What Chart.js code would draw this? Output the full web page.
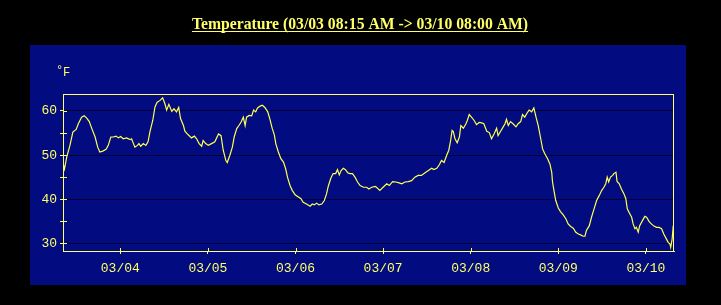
<!DOCTYPE html>
<html>
<head>
<meta charset="utf-8">
<script src="https://cdn.jsdelivr.net/npm/chart.js@4"></script>
<style>
  html, body { margin: 0; padding: 0; background: #000; }
  #wrap { width: 721px; height: 305px; }
</style>
</head>
<body>
<div id="wrap"><canvas id="tempChart" width="721" height="305"></canvas></div>
<script>
// hours since 03/03 00:00
var hours = [
    8.3, 8.7, 9.3, 10.2, 11.0, 11.9, 12.5, 13.4, 14.1, 14.8, 15.5, 16.2, 17.1, 17.8, 18.4, 19.2, 20.1, 20.7,
    21.4, 22.1, 22.8, 23.5, 24.1, 24.8, 25.7, 26.7, 27.1, 27.6, 28.0, 28.7, 29.1, 29.6, 30.3, 31.0, 31.6,
    32.1, 32.9, 33.5, 34.1, 34.9, 35.6, 36.2, 36.7, 37.3, 38.1, 38.7, 39.4, 40.0, 40.5, 41.3, 41.7, 42.6,
    43.5, 44.3, 44.9, 45.6, 46.3, 46.7, 47.4, 48.1, 49.0, 49.9, 50.9, 51.6, 52.2, 52.9, 53.3, 54.0, 54.7,
    55.2, 55.9, 56.5, 57.1, 57.7, 58.2, 58.6, 59.3, 60.0, 60.5, 61.1, 61.6, 62.3, 62.9, 63.6, 64.4, 65.0,
    65.6, 66.2, 66.6, 67.3, 68.0, 68.7, 69.3, 69.8, 70.5, 71.1, 71.9, 72.8, 73.5, 74.1, 75.0, 76.0, 76.6,
    77.1, 77.8, 78.4, 79.2, 79.9, 80.5, 81.0, 81.7, 82.3, 83.0, 83.5, 84.0, 84.5, 85.1, 85.7, 86.3, 86.9,
    87.6, 88.3, 89.0, 89.7, 90.6, 91.5, 92.1, 92.9, 93.8, 94.2, 95.1, 96.0, 97.0, 97.7, 98.6, 99.5, 100.4,
    101.1, 102.0, 102.9, 103.8, 104.7, 105.6, 106.5, 107.5, 108.4, 109.3, 109.9, 110.7, 111.4, 112.0,
    112.7, 113.4, 114.0, 114.5, 114.9, 115.2, 115.7, 116.3, 116.9, 117.3, 118.0, 118.7, 119.1, 119.6,
    120.2, 120.9, 121.6, 122.3, 123.0, 123.6, 124.4, 125.1, 125.7, 126.4, 127.1, 127.5, 128.2, 128.7,
    129.4, 129.8, 130.3, 130.9, 131.6, 132.4, 133.0, 133.7, 134.2, 134.8, 135.5, 136.0, 136.7, 137.3,
    137.9, 138.5, 139.1, 139.7, 140.3, 141.0, 141.7, 142.2, 142.4, 142.8, 143.3, 144.0, 144.6, 145.4,
    146.1, 146.7, 147.4, 148.1, 148.8, 149.5, 150.1, 150.8, 151.3, 151.7, 152.5, 153.1, 153.8, 154.5,
    155.2, 155.9, 156.5, 157.0, 157.4, 157.8, 158.3, 158.9, 159.2, 159.8, 160.1, 160.7, 161.3, 162.0,
    162.5, 162.9, 163.4, 164.1, 164.5, 165.0, 165.4, 165.9, 166.3, 167.1, 167.7, 168.2, 168.9, 169.5,
    170.2, 170.9, 171.6, 172.3, 172.9, 173.6, 174.1, 174.6, 174.8, 175.2, 175.5
];
var temps = [
    48.2, 46.8, 49.5, 52.2, 55.2, 55.8, 57.1, 58.6, 58.9, 58.4, 57.6, 56.0, 54.1, 51.8, 50.7, 50.9, 51.3, 52.2,
    54.1, 54.1, 54.3, 53.9, 54.2, 53.7, 53.9, 53.5, 53.7, 52.6, 51.8, 52.2, 52.6, 52.0, 52.6, 52.2, 53.0,
    55.2, 57.9, 60.9, 62.0, 62.4, 63.0, 61.7, 60.2, 61.5, 59.9, 60.5, 59.8, 60.8, 58.3, 56.7, 55.4, 54.6,
    53.9, 54.3, 53.7, 52.6, 52.0, 53.3, 52.6, 52.2, 52.6, 53.0, 54.8, 54.4, 51.1, 48.8, 48.3, 49.9, 51.8,
    54.1, 56.0, 56.7, 57.5, 58.6, 56.7, 58.6, 59.0, 58.9, 60.2, 59.8, 60.7, 61.1, 61.3, 60.8, 59.8, 58.1,
    56.1, 54.6, 52.6, 50.7, 49.2, 48.4, 46.9, 45.0, 43.1, 42.0, 41.0, 40.5, 40.1, 39.3, 38.9, 38.4, 38.9,
    38.7, 39.1, 38.7, 38.9, 39.7, 41.2, 43.0, 44.8, 45.8, 45.8, 46.7, 45.5, 46.5, 47.0, 46.7, 46.0, 45.8,
    45.8, 45.0, 43.9, 43.1, 42.7, 42.7, 42.3, 42.7, 42.9, 42.7, 42.0, 42.7, 43.5, 43.1, 44.0, 43.9, 43.7,
    43.5, 43.9, 44.0, 44.2, 45.0, 45.4, 45.4, 46.0, 46.5, 47.0, 46.7, 47.0, 47.8, 48.8,
    48.3, 49.9, 51.1, 53.3, 55.6, 55.4, 53.7, 52.8, 54.1, 56.7, 56.1, 57.1, 57.9, 59.2,
    58.6, 57.9, 56.9, 57.4, 57.3, 57.1, 55.4, 55.1, 53.7, 54.8, 56.1, 54.4, 55.4, 56.1,
    57.1, 58.1, 56.7, 57.6, 57.1, 56.4, 57.1, 57.6, 59.2, 58.6, 59.6, 60.2, 59.8, 60.7,
    58.6, 56.7, 54.1, 51.4, 50.3, 49.3, 48.0, 46.1, 44.0, 42.0, 39.7, 38.0, 37.2, 36.4,
    35.5, 34.4, 33.8, 33.4, 32.5, 32.1, 31.9, 31.6, 31.6, 32.9, 34.0, 35.9, 37.8, 39.7,
    40.8, 42.0, 42.7, 43.5, 45.0, 43.9, 45.0, 45.4, 45.8, 46.1, 44.0, 43.5, 42.3, 41.2,
    40.1, 37.8, 37.0, 35.9, 34.4, 33.3, 33.6, 32.5, 34.0, 35.2, 36.1, 35.9, 34.9, 34.4,
    33.9, 33.6, 33.6, 33.3, 32.1, 31.0, 30.2, 29.8, 29.1, 31.0, 34.0
];
var dayTicks = [24, 48, 72, 96, 120, 144, 168];
var dayLabels = ["03/04", "03/05", "03/06", "03/07", "03/08", "03/09", "03/10"];
var titulo = "Temperature (03/03 08:15 AM -> 03/10 08:00 AM)";
var unidad = "\u00B0F";

var amarillo = "#ffff66";
var fondo = "#020c80";

var puntos = [];
for (var i = 0; i < hours.length; i++) {
    puntos.push({ x: hours[i], y: temps[i] });
}

var decorado = {
    id: "decorado",
    beforeDraw: function (chart) {
        var ctx = chart.ctx;
        ctx.save();
        ctx.fillStyle = "#000";
        ctx.fillRect(0, 0, chart.width, chart.height);
        ctx.fillStyle = fondo;
        ctx.fillRect(30, 45, 656, 240);

        // titulo subrayado
        ctx.font = "bold 15.7px 'Liberation Serif'";
        ctx.fillStyle = amarillo;
        ctx.textAlign = "center";
        ctx.textBaseline = "alphabetic";
        ctx.fillText(titulo, 360, 29);
        var w = ctx.measureText(titulo).width;
        ctx.fillRect(360 - w / 2, 31, w, 1);

        ctx.font = "12px 'Liberation Mono'";
        ctx.textAlign = "left";
        ctx.fillText("\u00B0", 56, 74);
        ctx.fillText("F", 63, 76);
        ctx.restore();
    },
    afterDraw: function (chart) {
        var ctx = chart.ctx;
        var a = chart.chartArea;
        ctx.save();
        ctx.strokeStyle = amarillo;
        ctx.lineWidth = 1;
        ctx.strokeRect(Math.round(a.left) + 0.5, Math.round(a.top) + 0.5,
            Math.round(a.right - a.left) - 1, Math.round(a.bottom - a.top));
        // marcas hacia dentro
        ctx.beginPath();
        chart.scales.y.ticks.forEach(function (t) {
            var py = Math.round(chart.scales.y.getPixelForValue(t.value)) + 0.5;
            ctx.moveTo(a.left, py);
            ctx.lineTo(a.left + 4, py);
        });
        chart.scales.x.ticks.forEach(function (t) {
            var px = Math.round(chart.scales.x.getPixelForValue(t.value)) + 0.5;
            ctx.moveTo(px, a.bottom);
            ctx.lineTo(px, a.bottom - 3);
        });
        ctx.stroke();
        ctx.restore();
    }
};

var grafico = new Chart(document.getElementById("tempChart").getContext("2d"), {
    type: "line",
    data: {
        datasets: [{
            data: puntos,
            borderColor: "#ffff4d",
            borderWidth: 1.2,
            pointRadius: 0,
            tension: 0,
            fill: false
        }]
    },
    options: {
        responsive: false,
        animation: false,
        layout: { padding: { top: 94, right: 47, left: 0, bottom: 0 } },
        plugins: { legend: { display: false }, tooltip: { enabled: false } },
        scales: {
            x: {
                type: "linear",
                min: 8.3,
                max: 175.7,
                afterFit: function (s) { s.height = 54; },
                afterBuildTicks: function (s) {
                    s.ticks = dayTicks.map(function (v) { return { value: v }; });
                },
                ticks: {
                    color: amarillo,
                    font: { family: "'Liberation Mono'", size: 13 },
                    padding: 7,
                    maxRotation: 0,
                    autoSkip: false,
                    callback: function (v) {
                        var k = dayTicks.indexOf(v);
                        return k >= 0 ? dayLabels[k] : "";
                    }
                },
                grid: { drawOnChartArea: false, color: amarillo, tickColor: amarillo, tickLength: 3 },
                border: { color: amarillo }
            },
            y: {
                min: 28.25,
                max: 63.85,
                afterFit: function (s) { s.width = 63; },
                ticks: {
                    stepSize: 5,
                    includeBounds: false,
                    color: amarillo,
                    font: { family: "'Liberation Mono'", size: 13 },
                    padding: 3,
                    callback: function (v) { return v % 10 === 0 ? v : ""; }
                },
                grid: {
                    color: function (c) {
                        return c.tick && c.tick.value % 10 === 0 ? "#000038" : "rgba(0,0,0,0)";
                    },
                    tickColor: amarillo,
                    tickLength: 3
                },
                border: { color: amarillo }
            }
        }
    },
    plugins: [decorado]
});
</script>
</body>
</html>
